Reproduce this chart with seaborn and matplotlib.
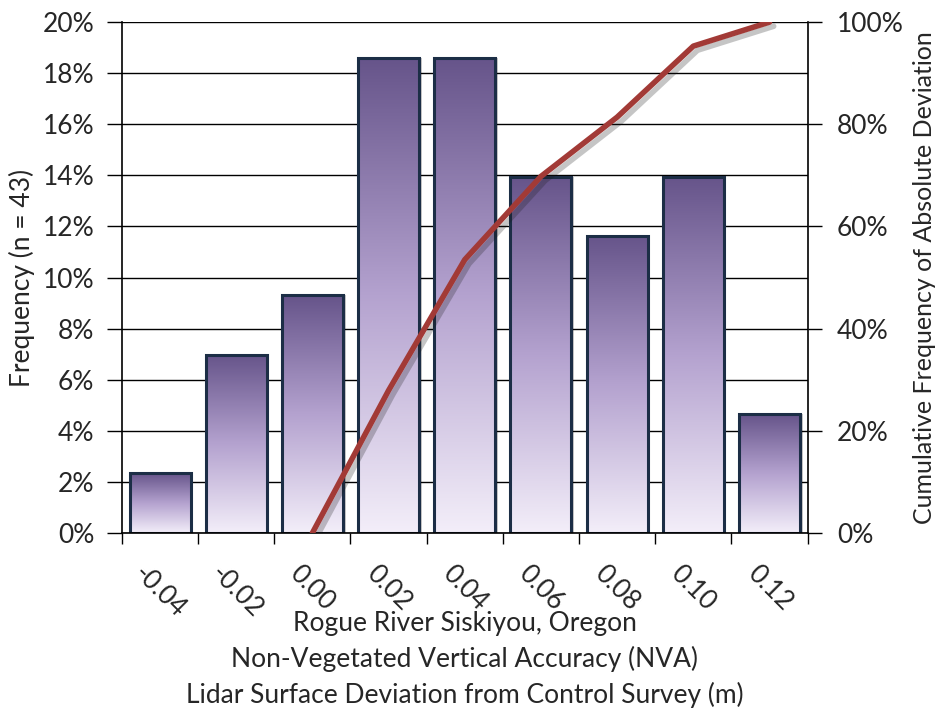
import numpy as np
import pandas as pd
import seaborn as sns
import matplotlib.pyplot as plt
import matplotlib.patheffects as pe
from matplotlib.colors import LinearSegmentedColormap
from matplotlib.ticker import FuncFormatter, MultipleLocator, FixedLocator

# deviation bins (m) and share of the 43 check points in each
bins = ["-0.04", "-0.02", "0.00", "0.02", "0.04", "0.06", "0.08", "0.10", "0.12"]
freq_pct = [2.33, 6.98, 9.30, 18.60, 18.60, 13.95, 11.63, 13.95, 4.65]

# cumulative frequency of absolute deviation
cum_bins = ["0.00", "0.02", "0.04", "0.06", "0.08", "0.10", "0.12"]
cum_pct = [0.0, 27.9, 53.5, 69.8, 81.4, 95.3, 100.0]

sns.set_theme(style="white")
plt.rcParams['font.family'] = ['Lato', 'DejaVu Sans']

FS = 19
BAR_TOP = "#66548a"
BAR_MID = "#b4a2cf"
BAR_BOT = "#f3eef9"
EDGE = "#1c2e46"
LINE = "#a23a36"

df = pd.DataFrame({"bin": bins, "freq": freq_pct})

fig = plt.figure(figsize=(9.38, 7.13), dpi=100)
ax = fig.add_axes([0.130, 0.2525, 0.731, 0.7165])

sns.barplot(data=df, x="bin", y="freq", order=bins, color=BAR_TOP,
            width=0.8, edgecolor=EDGE, linewidth=2.2, ax=ax)

# vertical gradient fill for each bar, clipped to the bar outline
cmap = LinearSegmentedColormap.from_list("bar", [BAR_BOT, BAR_MID, BAR_TOP])
grad = np.linspace(0, 1, 256).reshape(-1, 1)
for p in ax.patches:
    x0, y0 = p.get_x(), p.get_y()
    w, h = p.get_width(), p.get_height()
    # soft shadow on the right side
    sh = plt.Rectangle((x0 + 0.035, y0), w, h, facecolor="black", alpha=0.22,
                       edgecolor="none", zorder=p.get_zorder() - 0.2)
    ax.add_patch(sh)
    im = ax.imshow(grad, cmap=cmap, aspect="auto", origin="lower",
                   extent=[x0, x0 + w, y0, y0 + h], zorder=p.get_zorder() - 0.1)
    im.set_clip_path(p)
    p.set_facecolor("none")

ax.set_xlim(-0.5, len(bins) - 0.5)
ax.set_ylim(0, 20)
ax.set_axisbelow(True)
ax.yaxis.set_major_locator(MultipleLocator(2))
ax.yaxis.set_major_formatter(FuncFormatter(lambda v, _: f"{v:.0f}%"))
ax.grid(axis="y", color="black", linewidth=1.0)
ax.grid(axis="x", visible=False)

# category boundaries as tick marks, labels at bar centres
ax.xaxis.set_minor_locator(FixedLocator(np.arange(-0.5, len(bins), 1.0)))
ax.tick_params(axis="x", which="minor", bottom=True, length=8, width=1, color="black")
ax.tick_params(axis="x", which="major", bottom=True, length=0, pad=20, labelsize=FS)
ax.tick_params(axis="y", left=True, length=11, width=1, color="black", pad=9, labelsize=FS)
for lab in ax.get_xticklabels():
    lab.set_rotation(-45)
    lab.set_ha("center")
    lab.set_va("top")

for s in ["top", "right"]:
    ax.spines[s].set_visible(False)
for s in ["left", "bottom"]:
    ax.spines[s].set_color("black")
    ax.spines[s].set_linewidth(1.2)

ax.set_ylabel("Frequency (n = 43)", fontsize=FS)
ax.yaxis.set_label_coords(-0.146, 0.5)
ax.yaxis.label.set_va("center")
ax.set_xlabel("Rogue River Siskiyou, Oregon\n"
              "Non-Vegetated Vertical Accuracy (NVA)\n"
              "Lidar Surface Deviation from Control Survey (m)",
              fontsize=FS, linespacing=1.47)
ax.xaxis.set_label_coords(0.5, -0.152)
ax.xaxis.label.set_va("top")

# cumulative curve on a secondary axis
ax2 = ax.twinx()
cum_x = [bins.index(b) for b in cum_bins]
sns.lineplot(x=cum_x, y=cum_pct, color=LINE, linewidth=4, ax=ax2,
             path_effects=[pe.SimpleLineShadow(offset=(3, -3), alpha=0.25, rho=0.3),
                           pe.Normal()])
ax2.set_xlim(-0.5, len(bins) - 0.5)
ax2.set_ylim(0, 100)
ax2.yaxis.set_major_locator(MultipleLocator(20))
ax2.yaxis.set_major_formatter(FuncFormatter(lambda v, _: f"{v:.0f}%"))
ax2.tick_params(axis="y", right=True, length=10, width=1, color="black", pad=11, labelsize=FS)
ax2.set_ylabel("Cumulative Frequency of Absolute Deviation", fontsize=18)
ax2.yaxis.set_label_coords(1.1706, 0.5)
ax2.yaxis.label.set_va("center")
for s in ["top", "left", "bottom"]:
    ax2.spines[s].set_visible(False)
ax2.spines["right"].set_color("black")
ax2.spines["right"].set_linewidth(1.2)
ax2.grid(False)

plt.savefig("out.png", dpi=100)
